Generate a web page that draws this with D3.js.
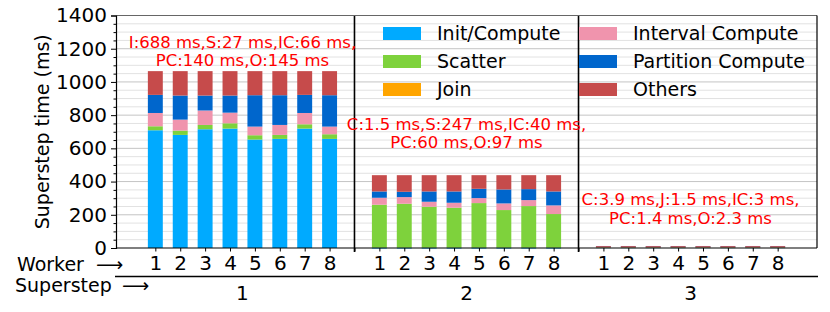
<!DOCTYPE html>
<html>
<head>
<meta charset="utf-8">
<script src="https://cdn.jsdelivr.net/npm/d3@7"></script>
<style>
body { margin: 0; background: #fff; }
text { font-family: "DejaVu Sans", sans-serif; }
</style>
</head>
<body>
<script>
// chart data
var supersteps = ["1", "2", "3"];
var workers = ["1", "2", "3", "4", "5", "6", "7", "8"];
var seriesNames = ["Init/Compute", "Scatter", "Join", "Interval Compute", "Partition Compute", "Others"];
var seriesColors = ["#00aaff", "#7ed23c", "#ffa500", "#f094ad", "#0066cc", "#c64b4b"];

// one value per worker, superstep 1 then 2 then 3
var initCompute      = [709, 681, 715, 719, 653, 657, 719, 657,  1.5, 1.5, 1.5, 1.5, 1.5, 1.5, 1.5, 1.5,  3.9, 3.9, 3.9, 3.9, 3.9, 3.9, 3.9, 3.9];
var scatter          = [24, 26, 26, 32, 26, 24, 26, 28,  259, 265, 247, 241, 269, 227, 251, 203,  0, 0, 0, 0, 0, 0, 0, 0];
var join             = [0, 0, 0, 0, 0, 0, 0, 0,  0, 0, 0, 0, 0, 0, 0, 0,  1.5, 1.5, 1.5, 1.5, 1.5, 1.5, 1.5, 1.5];
var intervalCompute  = [80, 66, 87, 64, 52, 60, 68, 46,  42, 40, 30, 30, 30, 40, 36, 52,  3, 3, 3, 3, 3, 3, 3, 3];
var partitionCompute = [109, 145, 90, 103, 189, 179, 109, 189,  38, 32, 62, 68, 56, 84, 66, 84,  1.4, 1.4, 1.4, 1.4, 1.4, 1.4, 1.4, 1.4];
var others           = [143, 147, 147, 147, 145, 145, 143, 145,  98, 100, 98, 98, 82, 86, 84, 98,  2.3, 2.3, 2.3, 2.3, 2.3, 2.3, 2.3, 2.3];

var notes = [
  ["I:688 ms,S:27 ms,IC:66 ms,", "PC:140 ms,O:145 ms"],
  ["C:1.5 ms,S:247 ms,IC:40 ms,", "PC:60 ms,O:97 ms"],
  ["C:3.9 ms,J:1.5 ms,IC:3 ms,", "PC:1.4 ms,O:2.3 ms"]
];
var noteLevels = [1243, 747, 293];
var yTicks = [0, 200, 400, 600, 800, 1000, 1200, 1400];

var width = 830, height = 312;
var plotL = 116, plotR = 817, plotT = 15.5, plotB = 248;

var svg = d3.select("body").append("svg")
    .attr("width", width)
    .attr("height", height);

// slot position of each bar: 8 bars per superstep, one empty slot between
var slots = [];
supersteps.forEach(function(s, g) {
  workers.forEach(function(w, i) { slots.push(g * 9 + i + 1); });
});

var x = d3.scaleLinear().domain([-0.58, 27.58]).range([plotL, plotR]);
var y = d3.scaleLinear().domain([0, 1400]).range([plotB, plotT]);

var minorTicks = d3.range(50, 1400, 50).filter(function(v) { return v % 200 != 0; });

// grid
var grid = svg.append("g");
grid.selectAll("line.minor")
  .data(minorTicks)
  .enter().append("line")
  .attr("x1", plotL).attr("x2", plotR)
  .attr("y1", function(d) { return y(d); }).attr("y2", function(d) { return y(d); })
  .style("stroke", "#e2e2e2").style("stroke-width", 1);
grid.selectAll("line.major")
  .data(yTicks.slice(1, -1))
  .enter().append("line")
  .attr("x1", plotL).attr("x2", plotR)
  .attr("y1", function(d) { return y(d); }).attr("y2", function(d) { return y(d); })
  .style("stroke", "#c4c4c4").style("stroke-width", 1);

// stacked bars
var rows = slots.map(function(p, i) {
  return {pos: p, vals: [initCompute[i], scatter[i], join[i], intervalCompute[i], partitionCompute[i], others[i]]};
});
var bw = x(0.6) - x(0);
rows.forEach(function(r) {
  var acc = 0;
  r.vals.forEach(function(v, k) {
    if (v <= 0) return;
    svg.append("rect")
      .attr("x", x(r.pos) - bw / 2)
      .attr("y", y(acc + v))
      .attr("width", bw)
      .attr("height", Math.max(y(acc) - y(acc + v), 0.8))
      .style("fill", seriesColors[k]);
    acc += v;
  });
});

// superstep separators
[9, 18].forEach(function(p) {
  svg.append("line")
    .attr("x1", x(p)).attr("x2", x(p))
    .attr("y1", plotT).attr("y2", plotB + 4)
    .style("stroke", "#000").style("stroke-width", 1.6);
});

// frame
svg.append("line").attr("x1", plotL).attr("x2", plotR).attr("y1", plotT).attr("y2", plotT)
  .style("stroke", "#666").style("stroke-width", 1.2);
svg.append("line").attr("x1", plotR).attr("x2", plotR).attr("y1", plotT).attr("y2", plotB)
  .style("stroke", "#000").style("stroke-width", 1.2);

// y axis
var yAxis = d3.axisLeft(y).tickValues(yTicks).tickSize(5).tickPadding(4).tickFormat(d3.format("d"));
var ya = svg.append("g").attr("transform", "translate(" + plotL + ",0)").call(yAxis);
ya.select(".domain").style("stroke", "#000").style("stroke-width", 1.2);
ya.selectAll("text").style("font-size", "20px").style("fill", "#000")
  .attr("font-family", "DejaVu Sans");
svg.append("g").attr("transform", "translate(" + plotL + ",0)")
  .call(d3.axisLeft(y).tickValues(minorTicks).tickSize(2.5).tickFormat(""))
  .select(".domain").remove();

svg.append("text")
  .attr("transform", "translate(" + 49 + "," + (plotT + plotB) / 2 + ") rotate(-90)")
  .attr("text-anchor", "middle")
  .style("font-size", "19px")
  .text("Superstep time (ms)");

// x axis: worker numbers
var xAxis = d3.axisBottom(x).tickValues(slots).tickSize(3.5).tickPadding(4)
  .tickFormat(function(d, i) { return workers[i % 8]; });
var xa = svg.append("g").attr("transform", "translate(0," + plotB + ")").call(xAxis);
xa.select(".domain").attr("d", "M" + plotL + ",0H" + plotR).style("stroke", "#000").style("stroke-width", 1.2);
xa.selectAll("text").style("font-size", "20px").style("fill", "#000").attr("font-family", "DejaVu Sans");
svg.append("g").attr("transform", "translate(0," + plotB + ")")
  .call(d3.axisBottom(x).tickValues([9, 18]).tickSize(3.5).tickFormat(""))
  .select(".domain").remove();

svg.append("text").attr("x", 17).attr("y", 270.5).style("font-size", "19px").text("Worker");
svg.append("text").attr("x", 96).attr("y", 270.5).style("font-size", "19px").text("\u27f6");
svg.append("line").attr("x1", plotL - 1).attr("x2", plotR + 1).attr("y1", 276.5).attr("y2", 276.5)
  .style("stroke", "#000").style("stroke-width", 1.4);
svg.append("text").attr("x", 15).attr("y", 291.5).style("font-size", "19px").text("Superstep");
svg.append("text").attr("x", 122).attr("y", 291.5).style("font-size", "19px").text("\u27f6");

supersteps.forEach(function(s, g) {
  var cx = x(g * 9 + 4.5);
  svg.append("text").attr("x", cx).attr("y", 299.5)
    .attr("text-anchor", "middle").style("font-size", "20px").text(s);
  notes[g].forEach(function(line, j) {
    svg.append("text")
      .attr("x", cx)
      .attr("y", y(noteLevels[g]) + 6 + j * 18.5)
      .attr("text-anchor", "middle")
      .style("font-size", "16.5px")
      .style("fill", "#ff0000")
      .text(line);
  });
});

// legend, two columns of three
var legend = svg.append("g");
seriesNames.forEach(function(name, k) {
  var col = Math.floor(k / 3), row = k % 3;
  var lx = col == 0 ? 383 : 579;
  var ly = 33.5 + row * 28;
  legend.append("rect")
    .attr("x", lx).attr("y", ly - 6.5)
    .attr("width", 38).attr("height", 13)
    .style("fill", seriesColors[k]);
  legend.append("text")
    .attr("x", lx + 54).attr("y", ly)
    .attr("dy", "0.35em")
    .style("font-size", "19px")
    .text(name);
});
</script>
</body>
</html>
